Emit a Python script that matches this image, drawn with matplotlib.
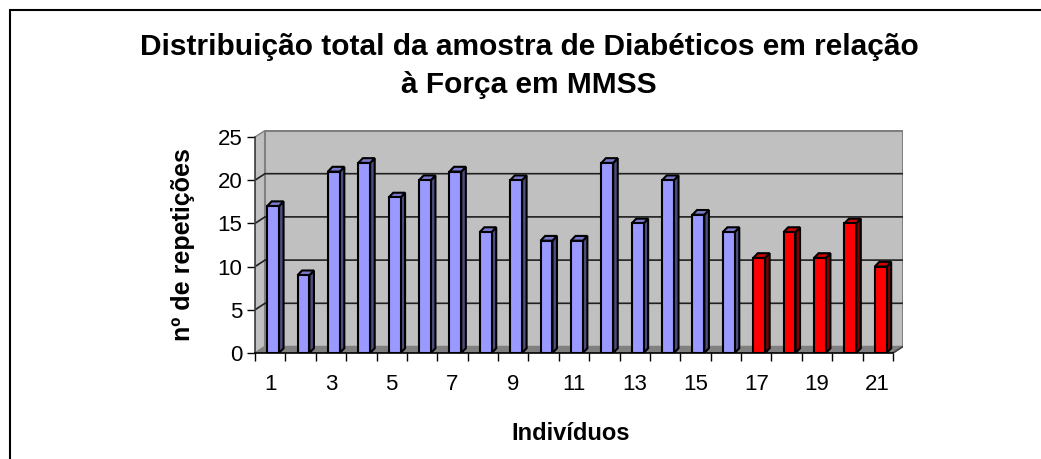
import matplotlib
matplotlib.use('Agg')
import matplotlib.pyplot as plt
from matplotlib.patches import Polygon, Rectangle

# --- data ---
individuos = list(range(1, 22))
repeticoes = [17, 9, 21, 22, 18, 20, 21, 14, 20, 13, 13, 22, 15, 20, 16, 14,
              11, 14, 11, 15, 10]
grupo = ['a'] * 16 + ['b'] * 5   # last five bars are red

title = "Distribuição total da amostra de Diabéticos em relação\nà Força em MMSS"
xlabel = "Indivíduos"
ylabel = "nº de repetições"
y_ticks = [0, 5, 10, 15, 20, 25]

# --- styles ---
face = {'a': '#9999ff', 'b': '#ff0000'}
side = {'a': '#4d4d80', 'b': '#800000'}
top = {'a': '#7a7acc', 'b': '#cc0000'}
WALL = '#c0c0c0'
FLOOR = '#808080'

plt.rcParams['font.family'] = ['Liberation Sans', 'DejaVu Sans']

W, H = 1041, 459
fig = plt.figure(figsize=(W / 100, H / 100), dpi=100)

# outer chart border (cut at right/bottom like the reference)
fig.patches.append(Rectangle((10 / W, -0.1), 1.2, (H - 10) / H + 0.1,
                             transform=fig.transFigure, fill=False,
                             edgecolor='black', linewidth=1.5))

# plot area in pixels
x0_px, x1_px, ybot_px, ytop_px = 255, 903, 353, 130
ax = fig.add_axes([x0_px / W, (H - ybot_px) / H,
                   (x1_px - x0_px) / W, (ybot_px - ytop_px) / H])

n = len(repeticoes)
unit_x = (893 - 255) / n
unit_y = (353 - 137) / 25
dx = (x1_px - 893) / unit_x          # wall depth offset
dy = 6.5 / unit_y
ax.set_xlim(0, n + dx)
ax.set_ylim(0, (ybot_px - ytop_px) / unit_y)
ax.set_facecolor('none')

# walls and floor
ax.add_patch(Polygon([(0, 0), (dx, dy), (dx, 25 + dy), (0, 25)],
                     closed=True, facecolor=WALL, edgecolor=FLOOR, lw=1, zorder=0))
ax.add_patch(Rectangle((dx, dy), n, 25, facecolor=WALL, edgecolor=FLOOR,
                       lw=1.5, zorder=0))
ax.add_patch(Polygon([(0, 0), (n, 0), (n + dx, dy), (dx, dy)], closed=True,
                     facecolor=FLOOR, edgecolor=FLOOR, lw=1, zorder=0.5))
for v in y_ticks[1:-1]:
    ax.plot([0, dx, n + dx], [v, v + dy, v + dy], color='#202020', lw=1.2, zorder=0.6)
ax.plot([n, n + dx], [0, dy], color='#404040', lw=1.2, zorder=0.7)

# bars: front face via ax.bar, side and top faces as polygons
bx0, bw = 0.4, 0.39
bdx, bdy = 0.15, 0.55
lefts = [i - 1 + bx0 for i in individuos]
cols = [face[g] for g in grupo]
ax.bar(lefts, repeticoes, width=bw, align='edge', color=cols,
       edgecolor='black', linewidth=1.5, zorder=3)
for l, v, g in zip(lefts, repeticoes, grupo):
    r = l + bw
    ax.add_patch(Polygon([(r, 0), (r + bdx, bdy), (r + bdx, v + bdy), (r, v)],
                         closed=True, facecolor=side[g], edgecolor='black',
                         lw=1.5, zorder=2))
    ax.add_patch(Polygon([(l, v), (l + bdx, v + bdy), (r + bdx, v + bdy), (r, v)],
                         closed=True, facecolor=top[g], edgecolor='black',
                         lw=1.5, zorder=2))

# axes
for s in ['top', 'right']:
    ax.spines[s].set_visible(False)
ax.spines['left'].set_bounds(0, 25)
ax.spines['bottom'].set_bounds(0, n)
ax.spines['left'].set_color('#404040')
ax.spines['left'].set_linewidth(1.2)
ax.spines['bottom'].set_linewidth(1.2)
ax.spines['left'].set_zorder(4)
ax.spines['bottom'].set_zorder(4)

ax.set_yticks(y_ticks)
ax.set_yticklabels([str(t) for t in y_ticks])
ax.tick_params(axis='y', direction='out', length=6, width=1, pad=3,
               labelsize=16, colors='black')

ax.set_xticks(range(n + 1))
ax.set_xticklabels([])
ax.tick_params(axis='x', which='major', direction='out', length=6, width=1)
ax.set_xticks([i - 0.5 for i in individuos[::2]], minor=True)
ax.set_xticklabels([str(i) for i in individuos[::2]], minor=True)
ax.tick_params(axis='x', which='minor', length=0, pad=15, labelsize=16)

ax.set_xlabel(xlabel, fontsize=17, fontweight='bold')
ax.set_ylabel(ylabel, fontsize=18, fontweight='bold')
ax.yaxis.set_label_coords((183 - x0_px) / (x1_px - x0_px),
                          (ybot_px - 245) / (ybot_px - ytop_px))
ax.xaxis.set_label_coords((571 - x0_px) / (x1_px - x0_px),
                          (ybot_px - 433) / (ybot_px - ytop_px))
ax.xaxis.label.set_va('center')
ax.yaxis.label.set_va('center')

fig.text(529 / W, 1 - 66 / H, title, ha='center', va='center', fontsize=21.5,
         fontweight='bold', linespacing=1.45)

fig.savefig('out.png', dpi=100)
